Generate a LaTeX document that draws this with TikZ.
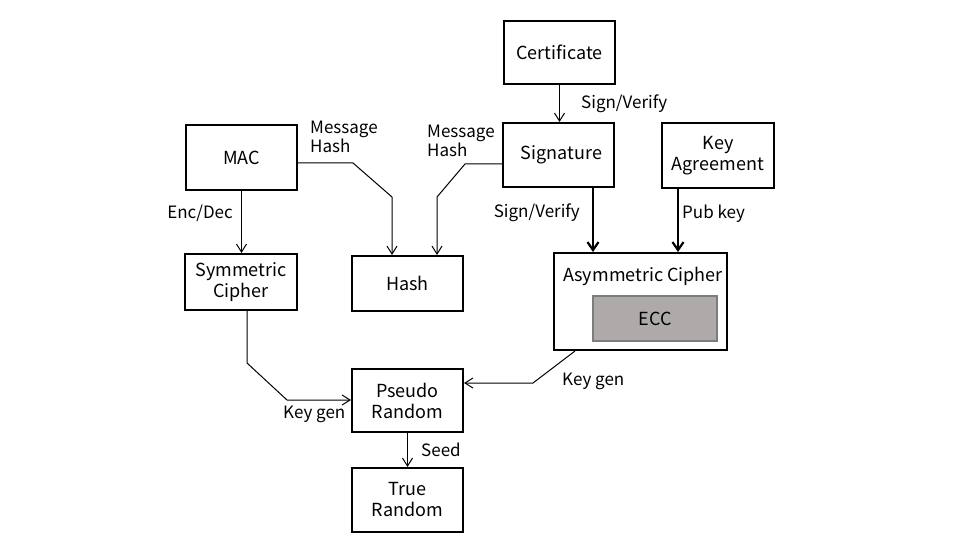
\documentclass[tikz,border=0pt]{standalone}
\usepackage{fontspec}
\setmainfont{Noto Sans CJK JP}
\usetikzlibrary{arrows.meta}
\definecolor{eccfill}{RGB}{174,170,170}
\definecolor{eccline}{RGB}{125,125,125}

\begin{document}
\begin{tikzpicture}[x=1pt, y=-1pt, line join=miter,
    box/.style={draw, line width=2pt, align=center, inner sep=0pt,
      font=\fontsize{18}{21}\selectfont},
    eccbox/.style={box, draw=eccline, fill=eccfill},
    lbl/.style={inner sep=0pt, align=left, font=\fontsize{17}{19}\selectfont},
    flow/.style={line width=1pt, -{Straight Barb[length=8pt,width=10pt]}},
    boldflow/.style={line width=2.2pt, -{Straight Barb[length=8pt,width=11pt]}}]
  \useasboundingbox (0,0) rectangle (960,540);

  % boxes
  \node[box, minimum width=111, minimum height=63] (cert) at (559.5,52.5) {Certificate};
  \node[box, minimum width=111, minimum height=64] (sig) at (558.5,155) {\hspace*{6pt}Signature};
  \node[box, minimum width=112, minimum height=65] (keyag) at (718,155.5) {Key\\Agreement};
  \node[box, minimum width=111, minimum height=65] (mac) at (241.5,157.5) {MAC};
  \node[box, minimum width=112, minimum height=56] (sym) at (241,282) {Symmetric\\Cipher};
  \node[box, minimum width=111, minimum height=55] (hash) at (407.5,283.5) {Hash};
  \node[box, minimum width=173, minimum height=97] (asym) at (640.5,301.5) {};
  \node[inner sep=0pt, font=\fontsize{18}{21}\selectfont] (asymtxt) at (643,276) {Asymmetric Cipher};
  \node[eccbox, minimum width=124, minimum height=45] (ecc) at (655,318.5) {ECC};
  \node[box, minimum width=111, minimum height=63] (prng) at (407.5,400.5) {Pseudo\\Random};
  \node[box, minimum width=111, minimum height=64] (trng) at (407.5,500) {True\\Random};

  % bends
  \coordinate (mh1) at (353,163);
  \coordinate (mh2) at (392,197);
  \coordinate (sh1) at (465,164);
  \coordinate (sh2) at (437,197);
  \coordinate (kg1) at (247,363);
  \coordinate (kg2) at (287,400);
  \coordinate (kg3) at (533,383);

  % connectors
  \draw[flow] (cert.south) -- (cert.south |- sig.north);
  \draw[flow] (mac.east |- mh1) -- (mh1) -- (mh2) -- (mh2 |- hash.north);
  \draw[flow] (sig.west |- sh1) -- (sh1) -- (sh2) -- (sh2 |- hash.north);
  \draw[flow] (mac.south) -- (mac.south |- sym.north);
  \draw[boldflow] (sig.south -| 593,0) -- (asym.north -| 593,0);
  \draw[boldflow] (keyag.south -| 678,0) -- (asym.north -| 678,0);
  \draw[flow] (sym.south -| kg1) -- (kg1) -- (kg2) -- (kg2 -| prng.west);
  \draw[flow] (asym.south -| 575,0) -- (kg3) -- (kg3 -| prng.east);
  \draw[flow] (prng.south) -- (trng.north);

  % labels
  \node[lbl, anchor=west] (lsv1) at (581,104) {Sign/Verify};
  \node[lbl, anchor=west] (lmh1) at (310,136.5) {Message\\Hash};
  \node[lbl, anchor=west] (lmh2) at (427,141) {Message\\Hash};
  \node[lbl, anchor=east] (lenc) at (233,213) {Enc/Dec};
  \node[lbl, anchor=east] (lsv2) at (580,213) {Sign/Verify};
  \node[lbl, anchor=west] (lpub) at (682,214) {Pub key};
  \node[lbl, anchor=west] (lkg1) at (283,414) {Key gen};
  \node[lbl, anchor=west] (lkg2) at (562,381) {Key gen};
  \node[lbl, anchor=west] (lseed) at (421,450) {Seed};
\end{tikzpicture}
\end{document}
